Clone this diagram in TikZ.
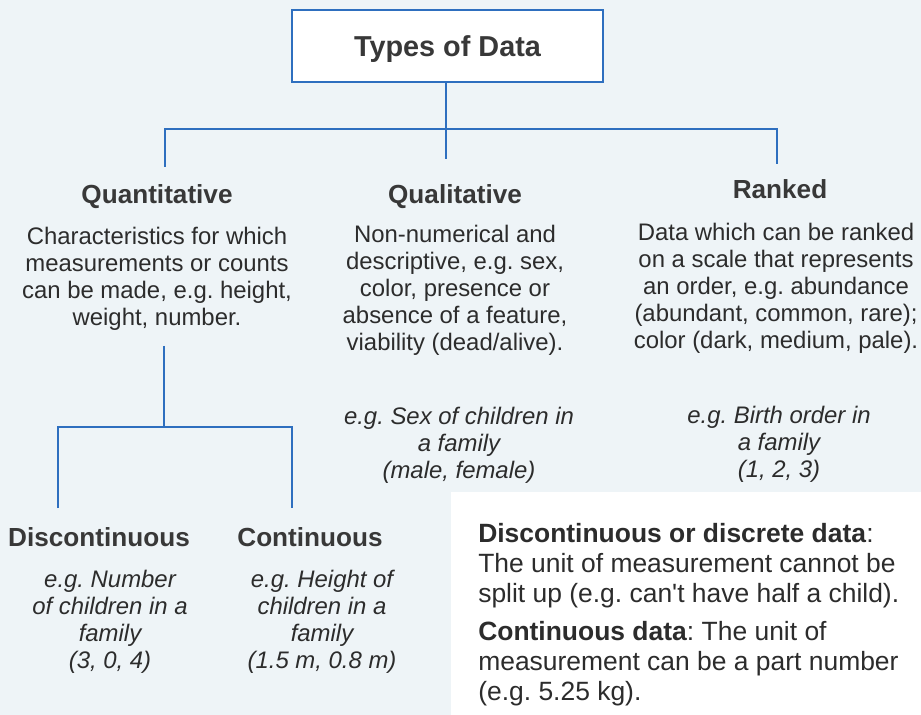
\documentclass[tikz,border=0pt]{standalone}
\usepackage{fontspec}
\setmainfont{Liberation Sans}
\frenchspacing
\definecolor{pagebg}{HTML}{EEF4F7}
\definecolor{inkgray}{HTML}{2C2C2C}
\definecolor{headgray}{HTML}{383838}
\definecolor{linkblue}{HTML}{2E6FBF}
\tikzset{
  link/.style={draw=linkblue, line width=1.7pt},
  head/.style={text=headgray, font=\fontsize{18.6}{22}\selectfont\bfseries, inner sep=0pt},
  body/.style={text=inkgray, font=\fontsize{17}{19.2}\selectfont, align=center, inner sep=0pt},
  eg/.style={body, font=\fontsize{17}{19.2}\selectfont\itshape},
  defn/.style={text=inkgray, font=\fontsize{18.8}{21.3}\selectfont, align=left, anchor=west, inner sep=0pt},
}
\begin{document}
\begin{tikzpicture}[x=0.025cm, y=-0.025cm]
  \fill[pagebg] (0,0) rectangle (921,715);
  \useasboundingbox (0,0) rectangle (921,715);

  % White panel for the definitions
  \fill[white] (451,492) rectangle (921,715);

  % Title box
  \node[draw=linkblue, line width=1.6pt, fill=white, minimum width=7.78cm, minimum height=1.8cm,
        text depth=0pt, text=headgray, font=\fontsize{20.5}{24}\selectfont\bfseries] (title) at (447.5,46) {Types of Data};

  % Headings of the three kinds
  \node[head] (qnt) at (157,197) {Quantitative};
  \node[head] (qlt) at (455,197) {Qualitative};
  \node[head] (rnk) at (780,189) {Ranked};

  \node[body] (qntdesc) at (157,279) {Characteristics for which\\measurements or counts\\can be made, e.g. height,\\weight, number.};
  \node[body] (qltdesc) at (455,290) {Non-numerical and\\descriptive, e.g. sex,\\color, presence or\\absence of a feature,\\viability (dead/alive).};
  \node[body] (rnkdesc) at (776,288) {Data which can be ranked\\on a scale that represents\\an order, e.g. abundance\\(abundant, common, rare);\\color (dark, medium, pale).};

  \node[eg] (qlteg) at (459,445) {e.g. Sex of children in\\a family\\(male, female)};
  \node[eg] (rnkeg) at (779,444) {e.g. Birth order in\\a family\\(1, 2, 3)};

  % Kinds of quantitative data
  \node[head] (dis) at (99,537) {Discontinuous};
  \node[head] (con) at (310,537) {Continuous};
  \node[eg] (diseg) at (110,622) {e.g. Number\\of children in a\\family\\(3, 0, 4)};
  \node[eg] (coneg) at (322,622) {e.g. Height of\\children in a\\family\\(1.5 m, 0.8 m)};

  % Definitions
  \node[defn] (disdef) at (478,566) {\textbf{Discontinuous or discrete data}:\\The unit of measurement cannot be\\split up (e.g. can\textquotesingle t have half a child).};
  \node[defn] (condef) at (478,664) {\textbf{Continuous data}: The unit of\\measurement can be a part number\\(e.g. 5.25 kg).};

  % Drawing the upper tree
  \coordinate (split) at (446,129);
  \coordinate (qnttop) at (165,167);
  \coordinate (qlttop) at (446,159);
  \coordinate (rnktop) at (777,164);
  \draw[link] (title.south -| split) -- (split) -- (qlttop);
  \draw[link] (qnttop) |- (split) -| (rnktop);

  % Drawing the lower tree
  \coordinate (qntstem) at (164,346);
  \coordinate (qsplit) at (164,427);
  \coordinate (distop) at (58,508);
  \coordinate (contop) at (292,508);
  \draw[link] (qntstem) -- (qsplit);
  \draw[link] (distop) |- (qsplit) -| (contop);
\end{tikzpicture}
\end{document}
